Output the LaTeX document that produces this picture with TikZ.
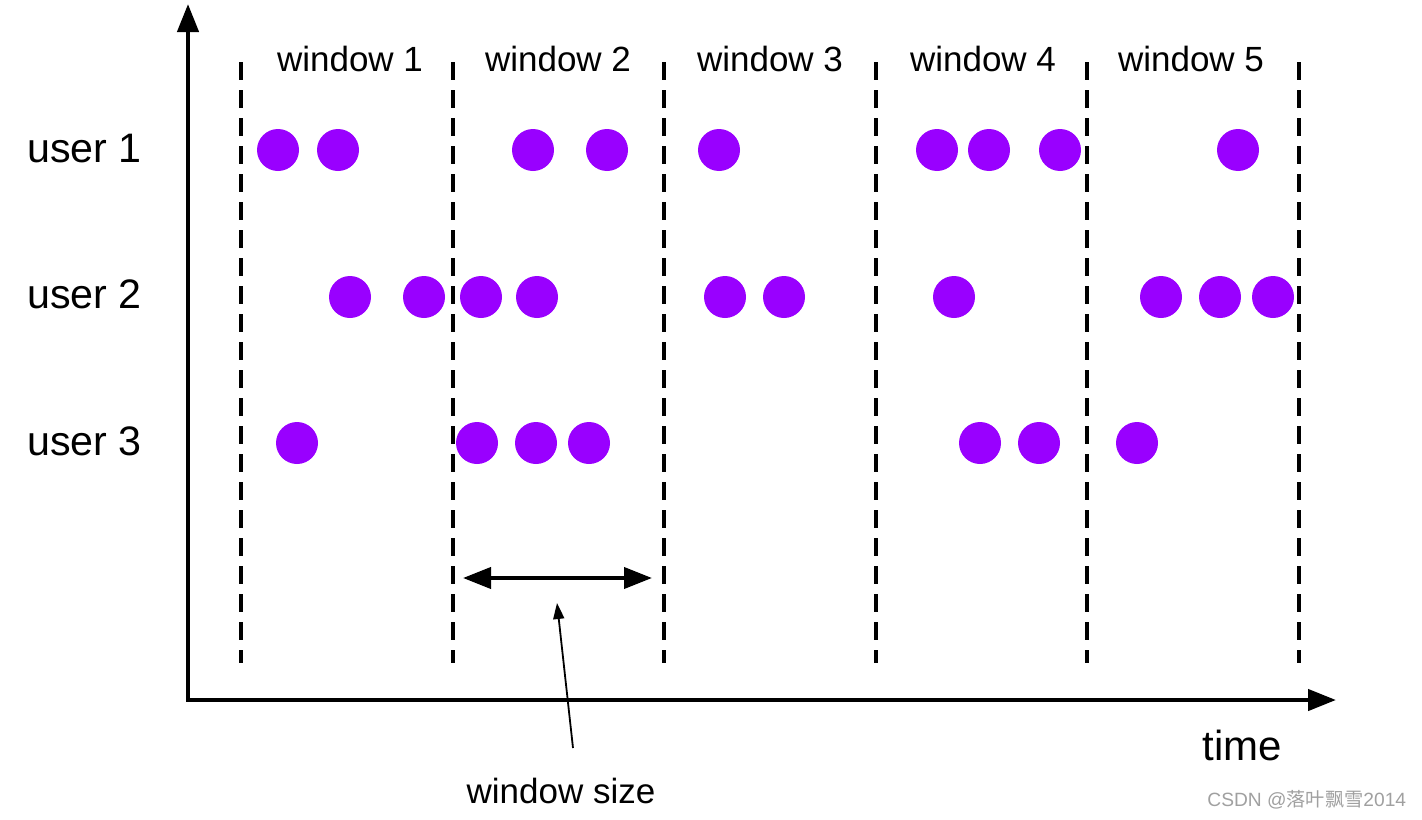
\documentclass[tikz,border=0pt]{standalone}
\usepackage{fontspec}
\setmainfont{Liberation Sans}
\newfontfamily\cjk{Noto Sans CJK SC}
\usetikzlibrary{arrows.meta}
\definecolor{eventpurple}{RGB}{153,0,255}
\definecolor{markgray}{RGB}{160,160,160}

\begin{document}
\begin{tikzpicture}[x=0.5pt, y=-0.5pt,
                eventnode/.style={circle, fill=eventpurple, minimum size=21pt, inner sep=0pt},
                windowline/.style={line width=2.2pt, dash pattern=on 9pt off 5pt},
                axisline/.style={line width=2.2pt, line join=miter, {Triangle[length=14pt,width=10.5pt]}-{Triangle[length=14pt,width=10.5pt]}},
                sizearrow/.style={line width=2pt, {Triangle[length=14pt,width=10.5pt]}-{Triangle[length=14pt,width=10.5pt]}},
                pointerarrow/.style={line width=0.9pt, -{Triangle[length=8pt,width=5.5pt]}},
                userlabel/.style={anchor=base west, inner sep=0pt, font=\fontsize{20.6pt}{24pt}\selectfont},
                windowlabel/.style={anchor=base, inner sep=0pt, font=\fontsize{17.5pt}{20pt}\selectfont},
                ]
                \useasboundingbox (0,0) rectangle (1422,819);

                % axes
                \coordinate (origin) at (188,700);
                \coordinate (ytop) at (188,4);
                \coordinate (xend) at (1336,700);
                \draw[axisline] (ytop) -- (origin) -- (xend);

                % window borders
                \foreach \x [count=\i] in {241,453,664,876,1087,1299} {
                    \coordinate (top\i) at (\x,62);
                    \coordinate (bot\i) at (\x,663);
                    \draw[windowline] (top\i) -- (bot\i);
                }
                \foreach \x [count=\i] in {350,558,770,983,1191}
                    \node[windowlabel] (win\i) at (\x,71) {window \i};

                % users and events
                \node[userlabel] (user1) at (27,162) {user 1};
                \node[userlabel] (user2) at (27,308) {user 2};
                \node[userlabel] (user3) at (27,455) {user 3};
                \foreach \x [count=\i] in {278,338,533,607,719,937,989,1060,1238}
                    \node[eventnode] (a\i) at (\x,150) {};
                \foreach \x [count=\i] in {350,424,481,537,725,784,954,1161,1220,1273}
                    \node[eventnode] (b\i) at (\x,297) {};
                \foreach \x [count=\i] in {297,477,536,589,980,1039,1137}
                    \node[eventnode] (c\i) at (\x,443) {};

                % window size
                \coordinate (sizeL) at (463,578);
                \coordinate (sizeR) at (652,578);
                \draw[sizearrow] (sizeL) -- (sizeR);
                \coordinate (ptail) at (573,748);
                \coordinate (phead) at (557,603);
                \draw[pointerarrow] (ptail) -- (phead);
                \node[windowlabel] (wsize) at (561,803) {window size};

                \node[anchor=base west, inner sep=0pt, font=\fontsize{21pt}{24pt}\selectfont] (time) at (1202,760) {time};
                \node[anchor=base west, inner sep=0pt, text=markgray, font=\fontsize{9.6pt}{11pt}\selectfont] (mark) at (1207,806) {CSDN @{\cjk 落叶飘雪}2014};
            \end{tikzpicture}
\end{document}
